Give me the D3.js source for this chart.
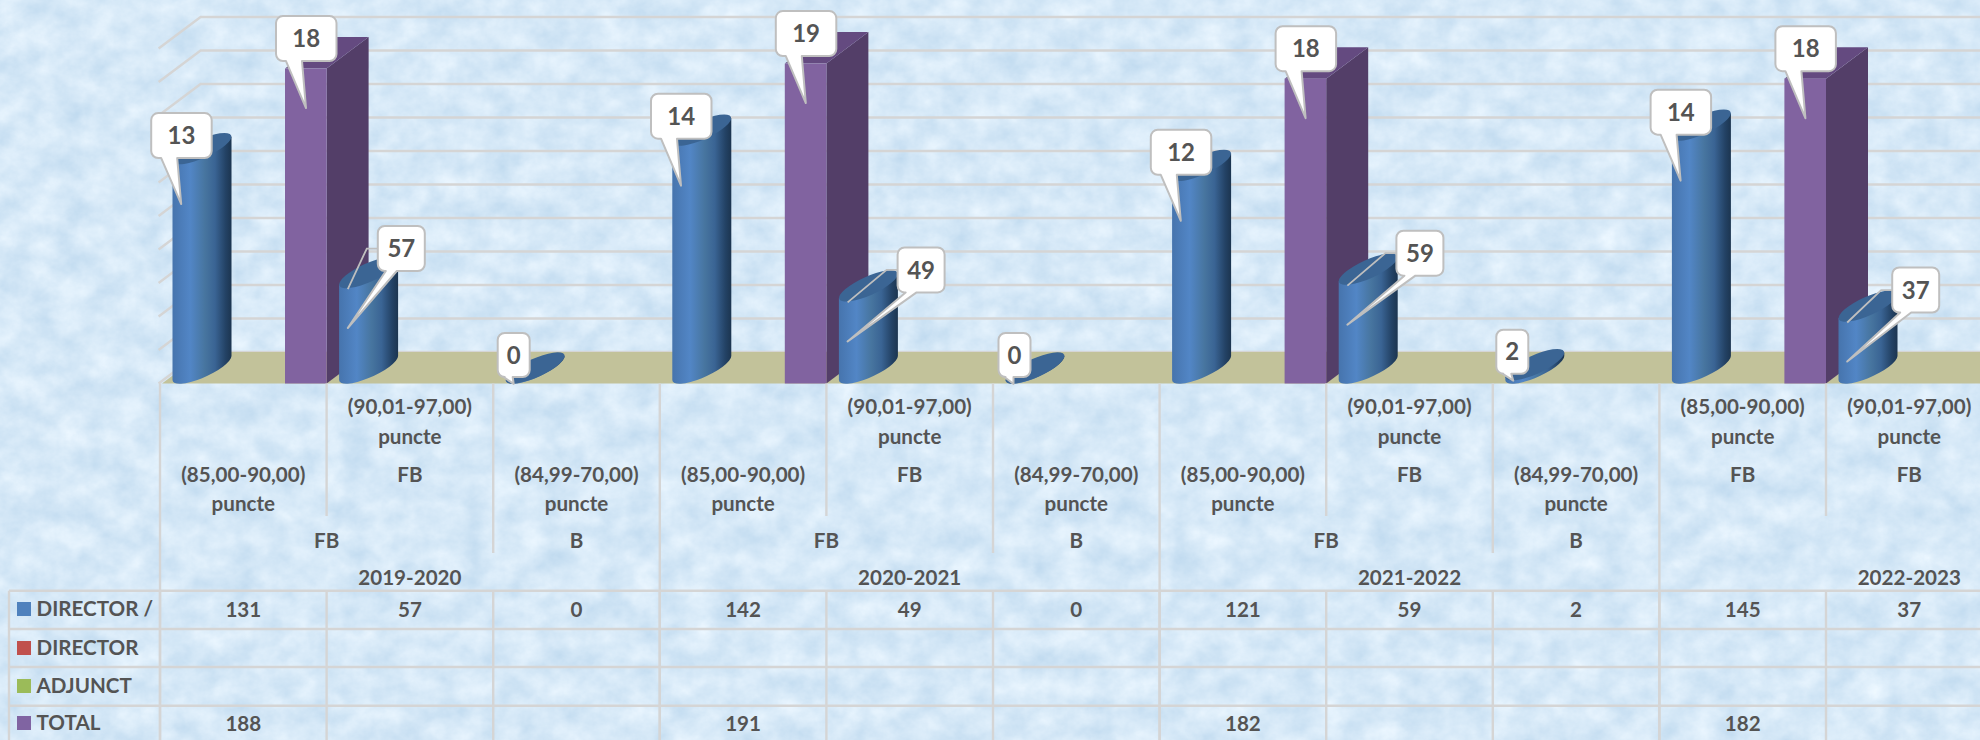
<!DOCTYPE html>
<html>
<head>
<meta charset="utf-8">
<script src="https://cdn.jsdelivr.net/npm/d3@7"></script>
<style>
  html, body { margin: 0; padding: 0; background: #d8e9f9; overflow: hidden; }
  text { font-family: Lato, "Open Sans", sans-serif; font-weight: 700; fill: #545454; }
</style>
</head>
<body>
<div id="plot"></div>
<script>
const years = ["2019-2020", "2020-2021", "2021-2022", "2022-2023"];
const yearSpans = [[0, 2], [3, 5], [6, 8], [9, 11]];

const scoreBands = [
  "(85,00-90,00)", "(90,01-97,00)", "(84,99-70,00)",
  "(85,00-90,00)", "(90,01-97,00)", "(84,99-70,00)",
  "(85,00-90,00)", "(90,01-97,00)", "(84,99-70,00)",
  "(85,00-90,00)", "(90,01-97,00)"
];
const innerGrades = ["", "FB", "", "", "FB", "", "", "FB", "", "FB", "FB"];
const outerGrades = ["FB", "B", "FB", "B", "FB", "B"];
const outerGradeSpans = [[0, 1], [2, 2], [3, 4], [5, 5], [6, 7], [8, 8]];

const directorValues = [131, 57, 0, 142, 49, 0, 121, 59, 2, 145, 37];
const directorCallouts = ["13", "57", "0", "14", "49", "0", "12", "59", "2", "14", "37"];
const totalCategories = [0, 3, 6, 9];
const totalValues = [188, 191, 182, 182];
const totalCallouts = ["18", "19", "18", "18"];
const yTicks = [0, 20, 40, 60, 80, 100, 120, 140, 160, 180, 200];

const legendLabels = ["DIRECTOR /", "DIRECTOR", "ADJUNCT", "TOTAL"];
const legendColors = ["#4f81bd", "#c0504d", "#9bbb59", "#8064a2"];

const width = 1980, height = 740;
const GRID_COLOR = "#d5d5d5";
const GRID_WIDTH = 2.4;
const DEPTH_X = 42, DEPTH_Y = 31.5;
const CYL_LEFT = 12.5, CYL_WIDTH = 59;
const BAR_LEFT = 125, BAR_WIDTH = 41.6;
// ellipse of the cylinder caps, tilted by the 3-D view
const CAP_RX = 32, CAP_RY = 9.3, CAP_ROT = -24.3, CAP_DY = 15.5, TANGENT_DY = 12;

// box corner relative to the callout tip
const directorBoxOffsets = [
  [-30, -91], [30, -102], [-16, -51],
  [-30, -92], [50, -94], [-15, -51],
  [-30, -91], [49, -94], [-17, -51],
  [-30, -91], [45, -94]
];
const tableRows = [590.7, 629, 667, 705.7];

const x = d3.scaleBand()
  .domain(d3.range(12))
  .range([160, 160 + 12 * 166.6]);

const y = d3.scaleLinear()
  .domain([0, 200])
  .range([383.5, 48.5]);

const svg = d3.select("#plot").append("svg")
  .attr("width", width)
  .attr("height", height)
  .style("display", "block");

const defs = svg.append("defs");

// paper texture behind the chart
const paper = defs.append("filter")
  .attr("id", "paper")
  .attr("x", 0).attr("y", 0).attr("width", "100%").attr("height", "100%")
  .attr("color-interpolation-filters", "sRGB");
paper.append("feTurbulence")
  .attr("type", "fractalNoise")
  .attr("baseFrequency", "0.035 0.04")
  .attr("numOctaves", 5)
  .attr("seed", 11);
paper.append("feColorMatrix")
  .attr("type", "matrix")
  .attr("values", "0.19 0 0 0 0.745  0.125 0 0 0 0.85  0.07 0 0 0 0.935  0 0 0 0 1");

const cylGradient = defs.append("linearGradient").attr("id", "cyl");
[[0, "#4674ad"], [0.3, "#5286c6"], [0.55, "#47759f"], [0.72, "#3a6494"], [0.9, "#234265"], [1, "#1c3550"]]
  .forEach(([o, c]) => cylGradient.append("stop").attr("offset", o).attr("stop-color", c));

svg.append("rect")
  .attr("width", width)
  .attr("height", height)
  .attr("fill", "#d8e9f9")
  .attr("filter", "url(#paper)");

// Walls and floor
svg.append("g").selectAll("path")
  .data(yTicks)
  .join("path")
  .attr("fill", "none")
  .attr("stroke", GRID_COLOR)
  .attr("stroke-width", GRID_WIDTH)
  .attr("d", d => `M158.6,${y(d)}L${158.6 + DEPTH_X},${y(d) - DEPTH_Y}H${width}`);

const floorFront = 162;
svg.append("path")
  .attr("fill", "#c2c29a")
  .attr("d", `M${floorFront},${y(0)}L${floorFront + DEPTH_X},${y(0) - DEPTH_Y}H${width}V${y(0)}Z`);

// TOTAL bars
const totals = totalValues.map((v, i) => ({ v, cat: totalCategories[i], label: totalCallouts[i] }));
const barG = svg.append("g").selectAll("g").data(totals).join("g");
const barX0 = d => x(d.cat) + BAR_LEFT;
const barX1 = d => barX0(d) + BAR_WIDTH;

barG.append("path")
  .attr("fill", "#533e68")
  .attr("d", d => `M${barX1(d)},${y(d.v)}l${DEPTH_X},${-DEPTH_Y}V${y(0) - DEPTH_Y}L${barX1(d)},${y(0)}Z`);
barG.append("path")
  .attr("fill", "#644a80")
  .attr("d", d => `M${barX0(d)},${y(d.v)}l${DEPTH_X},${-DEPTH_Y}h${BAR_WIDTH}L${barX1(d)},${y(d.v)}Z`);
barG.append("rect")
  .attr("fill", "#8163a0")
  .attr("x", barX0)
  .attr("y", d => y(d.v))
  .attr("width", BAR_WIDTH)
  .attr("height", d => y(0) - y(d.v));

// DIRECTOR cylinders
const directors = directorValues.map((v, i) => ({ v, cat: i, label: directorCallouts[i], off: directorBoxOffsets[i] }));
const cylX = d => x(d.cat) + CYL_LEFT + CYL_WIDTH / 2;
const cylG = svg.append("g").selectAll("g").data(directors).join("g");

cylG.append("path")
  .attr("fill", "url(#cyl)")
  .attr("d", d => {
    const cx = cylX(d), r = CYL_WIDTH / 2;
    const top = y(d.v) - CAP_DY, base = y(0) - CAP_DY;
    return `M${cx - r},${top + TANGENT_DY}L${cx - r},${base + TANGENT_DY}` +
      `A${CAP_RX},${CAP_RY} ${CAP_ROT} 0 0 ${cx + r},${base - TANGENT_DY}` +
      `L${cx + r},${top - TANGENT_DY}Z`;
  });
cylG.append("ellipse")
  .attr("fill", "#3b6594")
  .attr("rx", CAP_RX)
  .attr("ry", CAP_RY)
  .attr("transform", d => `translate(${cylX(d)},${y(d.v) - CAP_DY}) rotate(${CAP_ROT})`);

// Table lines
const lines = svg.append("g")
  .attr("stroke", GRID_COLOR)
  .attr("stroke-width", GRID_WIDTH);

lines.selectAll("line.row")
  .data(tableRows)
  .join("line")
  .attr("class", "row")
  .attr("x1", 9).attr("x2", width)
  .attr("y1", d => d).attr("y2", d => d);

lines.append("line")
  .attr("x1", 9).attr("x2", 9)
  .attr("y1", tableRows[0]).attr("y2", height);

const isGroupStart = i => i % 3 === 0;
const tickBottom = i => {
  if (isGroupStart(i)) return height;
  return i % 3 === 1 ? 516 : 553;
};
lines.selectAll("line.tick")
  .data(d3.range(11))
  .join("line")
  .attr("class", "tick")
  .attr("x1", i => x(i)).attr("x2", i => x(i))
  .attr("y1", y(0)).attr("y2", tickBottom);
lines.selectAll("line.cell")
  .data(d3.range(11))
  .join("line")
  .attr("class", "cell")
  .attr("x1", i => x(i)).attr("x2", i => x(i))
  .attr("y1", tableRows[0]).attr("y2", height);

// Axis labels
const FONT = 20.6;
const labels = svg.append("g")
  .attr("text-anchor", "middle")
  .attr("font-size", FONT);
const catCenter = i => x(i) + x.bandwidth() / 2;
const spanCenter = ([a, b]) => (x(a) + x(b) + x.bandwidth()) / 2;
const isRaised = i => i >= 9 || i % 3 === 1;

labels.selectAll("text.score")
  .data(scoreBands)
  .join("text")
  .attr("class", "score")
  .attr("x", (d, i) => catCenter(i))
  .attr("y", (d, i) => (isRaised(i) ? 407 : 475))
  .attr("dy", "0.35em")
  .text(d => d);
labels.selectAll("text.puncte")
  .data(scoreBands)
  .join("text")
  .attr("class", "puncte")
  .attr("x", (d, i) => catCenter(i))
  .attr("y", (d, i) => (isRaised(i) ? 437 : 504))
  .attr("dy", "0.35em")
  .text("puncte");
labels.selectAll("text.inner")
  .data(innerGrades)
  .join("text")
  .attr("class", "inner")
  .attr("x", (d, i) => catCenter(i))
  .attr("y", 475)
  .attr("dy", "0.35em")
  .text(d => d);
labels.selectAll("text.outer")
  .data(outerGrades)
  .join("text")
  .attr("class", "outer")
  .attr("x", (d, i) => spanCenter(outerGradeSpans[i]))
  .attr("y", 541)
  .attr("dy", "0.35em")
  .text(d => d);
labels.selectAll("text.year")
  .data(years)
  .join("text")
  .attr("class", "year")
  .attr("x", (d, i) => spanCenter(yearSpans[i]))
  .attr("y", 578)
  .attr("dy", "0.35em")
  .text(d => d);

// Data table values
labels.selectAll("text.dirValue")
  .data(directors)
  .join("text")
  .attr("class", "dirValue")
  .attr("x", d => catCenter(d.cat))
  .attr("y", 610)
  .attr("dy", "0.35em")
  .text(d => d.v);
labels.selectAll("text.totalValue")
  .data(totals)
  .join("text")
  .attr("class", "totalValue")
  .attr("x", d => catCenter(d.cat))
  .attr("y", 724)
  .attr("dy", "0.35em")
  .text(d => d.v);

// Legend keys in the table
const legend = svg.append("g").selectAll("g")
  .data(legendLabels)
  .join("g")
  .attr("transform", (d, i) => `translate(17,${[609, 648, 686, 723][i]})`);
legend.append("rect")
  .attr("y", -7)
  .attr("width", 14)
  .attr("height", 14)
  .attr("fill", (d, i) => legendColors[i]);
legend.append("text")
  .attr("x", 19.5)
  .attr("dy", "0.35em")
  .attr("font-size", FONT)
  .text(d => d);

// Callouts
function calloutPath(b, tip) {
  const r = 7;
  const start = b.w > 55 ? 10 : (b.w > 40 ? 8 : 6);
  const end = b.w > 55 ? 26 : (b.w > 40 ? 19 : 15);
  return `M${b.x + r},${b.y}H${b.x + b.w - r}a${r},${r} 0 0 1 ${r},${r}V${b.y + b.h - r}` +
    `a${r},${r} 0 0 1 ${-r},${r}H${b.x + end}L${tip[0]},${tip[1]}L${b.x + start},${b.y + b.h}` +
    `H${b.x + r}a${r},${r} 0 0 1 ${-r},${-r}V${b.y + r}a${r},${r} 0 0 1 ${r},${-r}Z`;
}

const isFlat = d => d.v < 10;
const calloutTip = d => (isFlat(d)
  ? [cylX(d) - 21.5, y(d.v) + 0.5]
  : [x(d.cat) + CYL_LEFT + 8.7, y(d.v) + 40]);
const directorBox = d => {
  const tip = calloutTip(d);
  const w = isFlat(d) ? 32 : (d.off[0] > 0 ? 47 : 60.5);
  return { x: tip[0] + d.off[0], y: tip[1] + d.off[1], w, h: isFlat(d) ? 44 : 45 };
};

const calloutColor = "#bfbfbf";
// leader lines of the low cylinders
svg.append("g").selectAll("path")
  .data(directors.filter(d => d.off[0] > 0))
  .join("path")
  .attr("fill", "none")
  .attr("stroke", calloutColor)
  .attr("stroke-width", 1.8)
  .attr("d", d => {
    const b = directorBox(d), tip = calloutTip(d);
    return `M${b.x},${b.y + b.h / 2}h-11L${tip[0]},${tip[1] - 39}`;
  });

const CALLOUT_FONT = 24;
const dirCallout = svg.append("g").selectAll("g").data(directors).join("g");
dirCallout.append("path")
  .attr("fill", "#fff")
  .attr("stroke", calloutColor)
  .attr("stroke-width", 2)
  .attr("stroke-linejoin", "round")
  .attr("d", d => calloutPath(directorBox(d), calloutTip(d)));
dirCallout.append("text")
  .attr("text-anchor", "middle")
  .attr("font-size", CALLOUT_FONT)
  .attr("dy", "0.36em")
  .attr("x", d => directorBox(d).x + directorBox(d).w / 2)
  .attr("y", d => directorBox(d).y + directorBox(d).h / 2)
  .text(d => d.label);

const totalTip = d => [barX0(d) + 21, y(d.v) + 39.5];
const totalBox = d => ({ x: totalTip(d)[0] - 30, y: totalTip(d)[1] - 92, w: 60.5, h: 45 });
const totCallout = svg.append("g").selectAll("g").data(totals).join("g");
totCallout.append("path")
  .attr("fill", "#fff")
  .attr("stroke", calloutColor)
  .attr("stroke-width", 2)
  .attr("stroke-linejoin", "round")
  .attr("d", d => calloutPath(totalBox(d), totalTip(d)));
totCallout.append("text")
  .attr("text-anchor", "middle")
  .attr("font-size", CALLOUT_FONT)
  .attr("dy", "0.36em")
  .attr("x", d => totalBox(d).x + totalBox(d).w / 2)
  .attr("y", d => totalBox(d).y + totalBox(d).h / 2)
  .text(d => d.label);
</script>
</body>
</html>
